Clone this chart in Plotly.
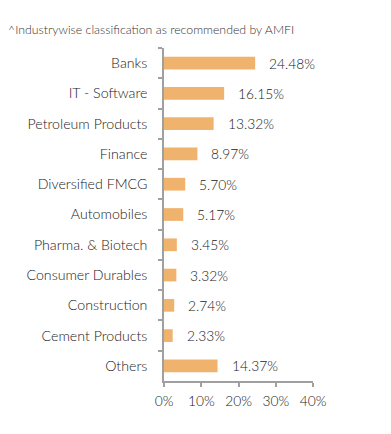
import plotly.graph_objects as go

categories = ["Banks", "IT - Software", "Petroleum Products", "Finance", "Diversified FMCG",
              "Automobiles", "Pharma. & Biotech", "Consumer Durables", "Construction",
              "Cement Products", "Others"]
values = [24.48, 16.15, 13.32, 8.97, 5.70, 5.17, 3.45, 3.32, 2.74, 2.33, 14.37]
x_ticks = [0, 10, 20, 30, 40]
x_tick_labels = ["0%", "10%", "20%", "30%", "40%"]
note = "^Industrywise classification as recommended by AMFI"

FONT = "Lato"
TXT = "#222222"
AXIS = "#a0a0a0"
W, H = 383, 426  # page body has an 8px default margin

fig = go.Figure(go.Bar(
    x=values, y=categories, orientation="h",
    marker=dict(color="#F0B36D", line=dict(width=0)),
    width=0.42, hoverinfo="skip",
))

for c, v in zip(categories, values):
    fig.add_annotation(x=v, y=c, xref="x", yref="y", text=f"{v:.2f}%",
                       showarrow=False, xanchor="left", yanchor="middle", xshift=12,
                       font=dict(family=FONT, size=13.8, color=TXT, weight=300))

fig.update_layout(
    width=W, height=H,
    margin=dict(l=156, r=78, t=40, b=53),
    paper_bgcolor="white", plot_bgcolor="white",
    showlegend=False,
    title=dict(text=note, x=0, xanchor="left", xref="container",
               y=1 - 22 / H, yref="container", yanchor="middle", pad=dict(l=0, r=0, t=0, b=0),
               font=dict(family=FONT, size=12.3, color="#333333", weight=300)),
    font=dict(family=FONT, size=14, color=TXT, weight=300),
)
fig.update_xaxes(range=[0, 40], tickvals=x_ticks, ticktext=x_tick_labels,
                 showgrid=False, zeroline=False, showline=True, linecolor=AXIS, linewidth=1.5,
                 ticks="outside", ticklen=4, tickcolor=AXIS, tickwidth=1.5,
                 ticklabelstandoff=3,
                 tickfont=dict(family=FONT, size=13.8, color=TXT, weight=300), fixedrange=True)
fig.update_yaxes(categoryorder="array", categoryarray=categories, autorange="reversed",
                 showgrid=False, zeroline=False, showline=True, linecolor=AXIS, linewidth=1.5,
                 ticks="outside", ticklen=4, tickcolor=AXIS, tickwidth=1.5, tickson="boundaries",
                 ticklabelstandoff=12,
                 tickfont=dict(family=FONT, size=14.2, color=TXT, weight=300), fixedrange=True)

fig.write_html("out.html")
